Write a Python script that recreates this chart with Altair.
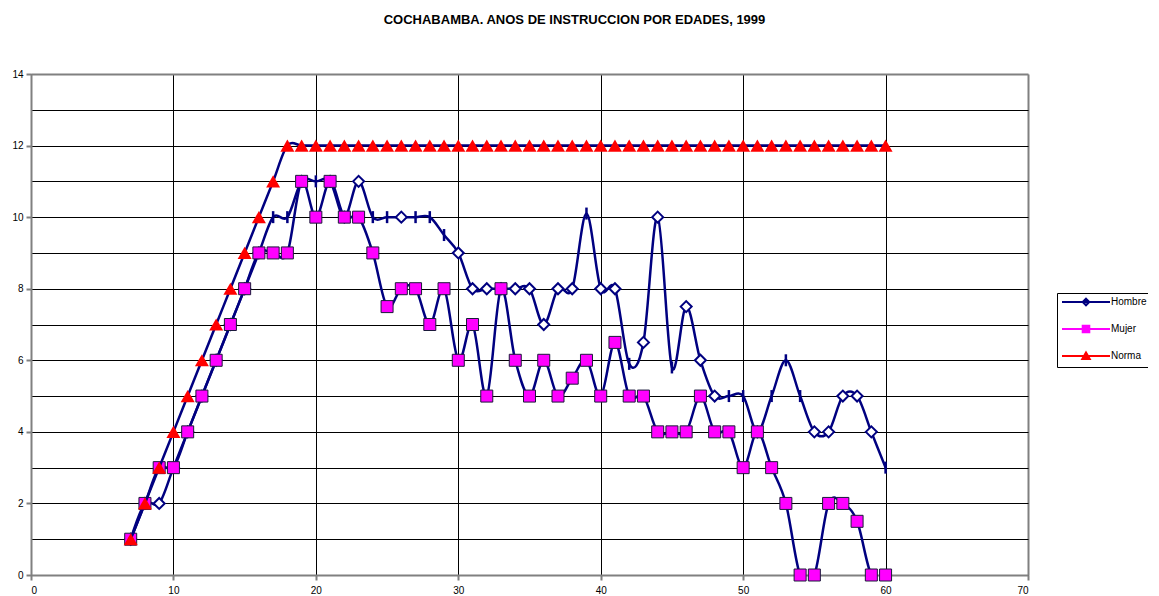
import altair as alt
import pandas as pd

# ---- data ----
edades = list(range(7, 61))
hombre = [1, 2, 2, 3, 4, 5, 6, 7, 8, 9, 10, 10, 11, 11, 11, 10, 11, 10, 10, 10,
          10, 10, 9.5, 9, 8, 8, 8, 8, 8, 7, 8, 8, 10.1, 8, 8, 5.9, 6.5, 10, 5.8, 7.5,
          6, 5, 5, 5, 4, 5, 6, 5, 4, 4, 5, 5, 4, 3]
mujer = [1, 2, 3, 3, 4, 5, 6, 7, 8, 9, 9, 9, 11, 10, 11, 10, 10, 9, 7.5, 8,
         8, 7, 8, 6, 7, 5, 8, 6, 5, 6, 5, 5.5, 6, 5, 6.5, 5, 5, 4, 4, 4,
         5, 4, 4, 3, 4, 3, 2, 0, 0, 2, 2, 1.5, 0, 0]
norma = [1, 2, 3, 4, 5, 6, 7, 8, 9, 10, 11, 12, 12, 12, 12, 12, 12, 12, 12, 12,
         12, 12, 12, 12, 12, 12, 12, 12, 12, 12, 12, 12, 12, 12, 12, 12, 12, 12, 12, 12,
         12, 12, 12, 12, 12, 12, 12, 12, 12, 12, 12, 12, 12, 12]
series = ["Hombre", "Mujer", "Norma"]
# ages where the Hombre marker is drawn as a short vertical stroke in the original
hombre_trazo = [17, 18, 20, 24, 25, 27, 28, 29, 39, 42, 45, 49, 50, 52, 53, 54, 60]

rows = []
for s, vals in zip(series, [hombre, mujer, norma]):
    for e, v in zip(edades, vals):
        marca = "trazo" if (s == "Hombre" and e in hombre_trazo) else "rombo"
        rows.append({"edad": e, "valor": v, "serie": s, "marca": marca})
df = pd.DataFrame(rows)

FONT = "Liberation Sans"
NAVY = "#000080"

grid_color = {"condition": {"test": "datum.value == 70 || datum.value == 14", "value": "#808080"}, "value": "#000000"}
grid_width = {"condition": {"test": "datum.value == 70 || datum.value == 14", "value": 2}, "value": 1}

x_enc = alt.X("edad:Q", scale=alt.Scale(domain=[0, 70], nice=False, zero=False),
              axis=alt.Axis(values=list(range(0, 71, 10)), grid=True, gridColor=grid_color,
                            gridWidth=grid_width, domainColor="#808080", domainWidth=2,
                            tickColor="#808080", tickWidth=2, tickSize=5,
                            labelFontSize=10, labelFont=FONT, labelColor="#000",
                            labelPadding=5, title=None))
y_enc = alt.Y("valor:Q", scale=alt.Scale(domain=[0, 14], nice=False),
              axis=alt.Axis(values=list(range(0, 15)), grid=True, gridColor=grid_color,
                            gridWidth=grid_width, domainColor="#808080", domainWidth=2,
                            tickColor="#808080", tickWidth=2, tickSize=5,
                            tickOpacity={"condition": {"test": "datum.value % 2 == 1", "value": 0}, "value": 1},
                            labelExpr="datum.value % 2 == 0 ? datum.label : ''",
                            labelFontSize=10, labelFont=FONT, labelColor="#000",
                            labelPadding=3, title=None))

base = alt.Chart(df).encode(x=x_enc, y=y_enc)


def line(s):
    return base.transform_filter(alt.datum.serie == s).mark_line(
        color=NAVY, strokeWidth=2.5, interpolate="cardinal", clip=True)


h_line = line("Hombre")
h_diam = base.transform_filter((alt.datum.serie == "Hombre") & (alt.datum.marca == "rombo")).mark_point(
    shape="diamond", size=121, filled=True, fill="white", stroke=NAVY, strokeWidth=2, opacity=1)
h_tick = base.transform_filter((alt.datum.serie == "Hombre") & (alt.datum.marca == "trazo")).mark_point(
    shape="M0,-1L0,1", size=144, filled=False, stroke=NAVY, strokeWidth=2.5, opacity=1)
m_line = line("Mujer")
m_sq = base.transform_filter(alt.datum.serie == "Mujer").mark_point(
    shape="square", size=144, filled=True, fill="#FF00FF", stroke="#1a1a3a", strokeWidth=1, opacity=1)
n_line = line("Norma")
n_tri = base.transform_filter(alt.datum.serie == "Norma").mark_point(
    shape="triangle-up", size=196, filled=True, fill="#FF0000", strokeWidth=0, opacity=1)

legend = alt.Legend(orient="none", legendX=1026, legendY=219, title=None,
                    strokeColor="#000", fillColor="white", padding=4,
                    symbolSize=36, symbolStrokeWidth=2, symbolOffset=20,
                    symbolFillColor="white",
                    labelOffset=20, labelFontSize=10, labelFont=FONT, labelColor="#000",
                    rowPadding=11)
leg_layer = base.transform_filter("false").mark_point(filled=True, strokeWidth=2, opacity=1).encode(
    shape=alt.Shape("serie:N", scale=alt.Scale(domain=series, range=[
        "M-8,0H8M0,-1.1L1.1,0L0,1.1L-1.1,0Z",
        "M-8,0H8M-1.1,-1.1H1.1V1.1H-1.1Z",
        "M-8,0H8M0,-1.2L1.25,1L-1.25,1Z"]), legend=legend),
    fill=alt.Fill("serie:N", scale=alt.Scale(domain=series, range=["white", "#FF00FF", "#FF0000"]), legend=legend),
    stroke=alt.Stroke("serie:N", scale=alt.Scale(domain=series, range=[NAVY, "#FF00FF", "#FF0000"]), legend=legend),
)

chart = alt.layer(h_line, h_diam, h_tick, m_line, m_sq, n_line, n_tri, leg_layer).properties(
    width=997, height=501,
    autosize=alt.AutoSizeParams(type="none"),
    padding={"left": 23, "top": 66, "right": 120, "bottom": 22},
    title=alt.Title("COCHABAMBA. ANOS DE INSTRUCCION POR EDADES, 1999", fontSize=13, font=FONT,
                    fontWeight="bold", color="#000", anchor="middle", dx=45, offset=42),
).configure_view(stroke=None).configure(background="white")

chart.save("out.html", embed_options={"renderer": "svg", "actions": False})
